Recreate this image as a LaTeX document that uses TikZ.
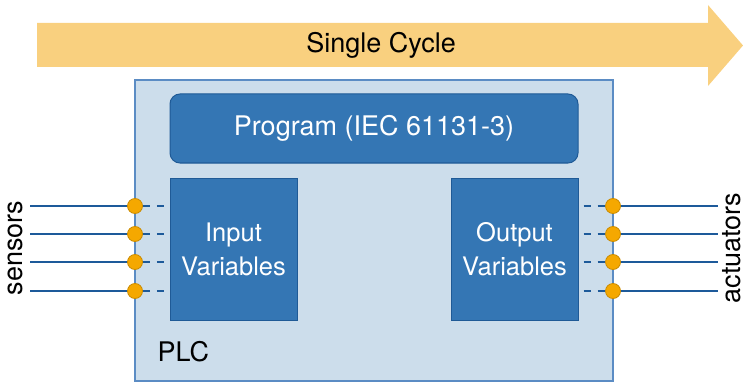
\documentclass[tikz,border=0pt]{standalone}
\usepackage{fontspec}
\setmainfont{TeX Gyre Heros}
\usepackage{tikz}
\usetikzlibrary{positioning}
\definecolor{cycleOrange}{HTML}{F9D07F}
\definecolor{plcFill}{HTML}{CCDDEB}
\definecolor{plcLine}{HTML}{5B8CC4}
\definecolor{varFill}{HTML}{3476B4}
\definecolor{varLine}{HTML}{1F5A96}
\definecolor{portFill}{HTML}{F5A800}
\definecolor{portLine}{HTML}{C98A00}
\definecolor{wireBlue}{HTML}{1D5A9A}

\begin{document}
\begin{tikzpicture}[x=1pt,y=-1pt,font=\fontsize{27}{34}\selectfont,
    plcbox/.style={draw=plcLine,line width=1.2pt,fill=plcFill,inner sep=0pt,
      minimum width=478pt,minimum height=301pt},
    block/.style={draw=varLine,line width=1pt,fill=varFill,text=white,
      align=center,inner sep=0pt},
    varbox/.style={block,minimum width=127pt,minimum height=142pt,
      font=\fontsize{25.5}{34}\selectfont},
    port/.style={circle,draw=portLine,fill=portFill,line width=0.8pt,
      minimum size=15pt,inner sep=0pt},
    wire/.style={draw=wireBlue,line width=2pt},
    stub/.style={wire,dash pattern=on 7pt off 7pt}]
    \useasboundingbox (0,0) rectangle (743,382);
    % cycle arrow
    \fill[cycleOrange] (37,23) -- (708,23) -- (708,5) -- (743,45.5)
      -- (708,86) -- (708,67) -- (37,67) -- cycle;
    \node (cycle) at (381,45) {Single Cycle};
    % controller
    \node[plcbox] (plc) at (374,230.5) {};
    \node[anchor=west] (plclabel) at (154,352) {PLC};
    \node[block,rounded corners=10pt,minimum width=408pt,minimum height=69pt]
      (program) at (374,128.5) {Program (IEC 61131-3)};
    \node[varbox] (input) at (233.5,249) {Input\\Variables};
    \node[varbox] (output) at (514.5,249) {Output\\Variables};
    % ports
    \foreach \i/\y in {1/206,2/234,3/262,4/291} {
      \coordinate (sensor\i) at (30,\y);
      \coordinate (actuator\i) at (718,\y);
      \node[port] (in\i) at (135,\y) {};
      \node[port] (out\i) at (613,\y) {};
      \draw[wire] (sensor\i) -- (in\i);
      \draw[stub,shorten >=5pt] (in\i) -- (in\i -| input.west);
      \draw[stub,shorten <=5pt] (out\i -| output.east) -- (out\i);
      \draw[wire] (out\i) -- (actuator\i);
    }
    \node[rotate=90] (sensors) at (15,248) {sensors};
    \node[rotate=90] (actuators) at (732,248) {actuators};
  \end{tikzpicture}
\end{document}
